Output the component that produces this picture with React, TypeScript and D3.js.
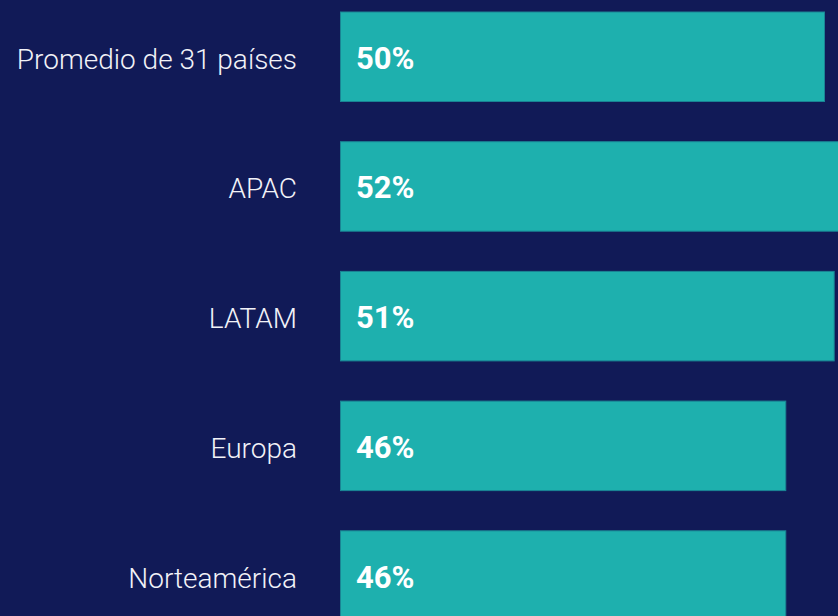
import React from "react";
import * as d3 from "d3";

const regions = ["Promedio de 31 países", "APAC", "LATAM", "Europa", "Norteamérica"];
const shares = [50, 52, 51, 46, 46];

const W = 838;
const H = 616;

export default function App() {
  const x = d3.scaleLinear().domain([0, 100]).range([340.5, 340.5 + 968]);
  const y = d3
    .scaleBand<string>()
    .domain(regions)
    .range([12, 620.3])
    .paddingInner(0.31)
    .paddingOuter(0);

  return (
    <div style={{ position: "fixed", left: 0, top: 0, width: W, height: H, overflow: "hidden" }}>
      <svg width={W} height={H} style={{ display: "block", background: "#111a57" }}>
        {regions.map((r, i) => {
          const y0 = y(r)!;
          const cy = y0 + y.bandwidth() / 2;
          return (
            <g key={r}>
              <rect
                x={x(0)}
                y={y0}
                width={x(shares[i]) - x(0)}
                height={y.bandwidth()}
                fill="#1eb0ae"
                stroke="#1a8494"
                strokeWidth={1}
              />
              <text
                x={297}
                y={cy + 12}
                textAnchor="end"
                fill="#f2f2f7"
                fontFamily="Roboto"
                fontWeight={300}
                fontSize={28}
              >
                {r}
              </text>
              <text
                x={356}
                y={cy + 12}
                fill="#ffffff"
                fontFamily="Roboto"
                fontWeight={700}
                fontSize={31}
              >
                {shares[i] + "%"}
              </text>
            </g>
          );
        })}
      </svg>
    </div>
  );
}
